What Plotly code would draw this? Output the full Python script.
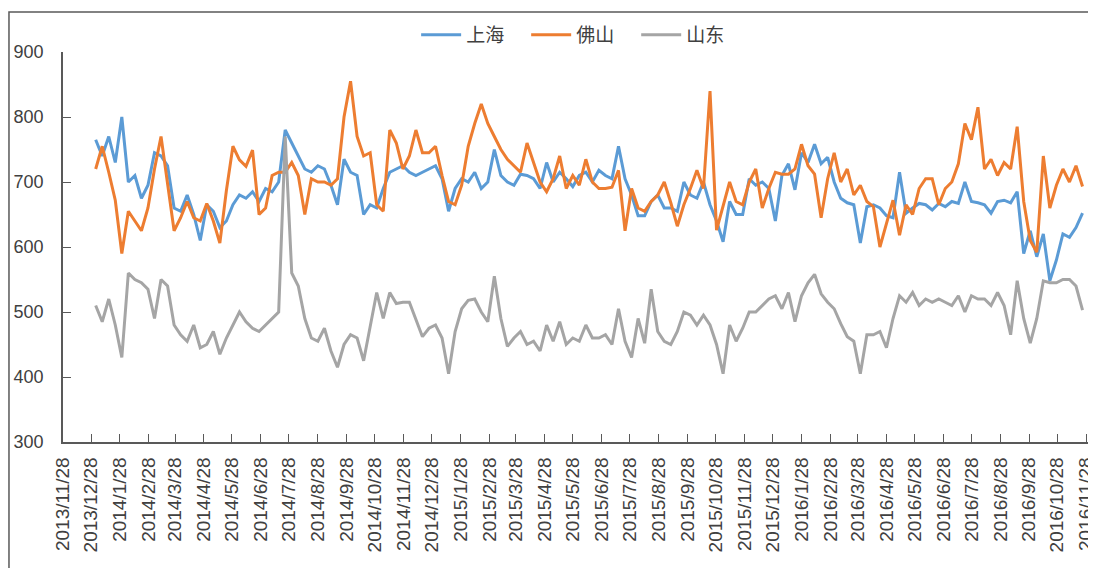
import pandas as pd
import plotly.graph_objects as go

# weekly observation dates (x categories)
dates = pd.date_range("2014-01-02", periods=152, freq="7D")

shanghai = [
    765, 740, 770, 730, 800, 700, 710, 675, 695, 745, 740, 725, 660, 655, 680, 650, 610, 665, 655, 630, 640, 665, 680, 675, 685, 670, 690,
    685, 700, 780, 760, 740, 720, 715, 725, 720, 695, 665, 735, 715, 710, 650, 665, 660, 690, 715, 720, 725, 715, 710, 715, 720,
    725, 705, 655, 690, 705, 700, 715, 690, 700, 750, 710, 700, 695, 712, 710, 705, 690, 730, 700, 715, 705, 693, 710, 715, 700, 718,
    710, 705, 755, 705, 680, 648, 648, 670, 680, 660, 660, 655, 700, 680, 675, 700, 665, 640, 608, 670, 650, 650, 705, 695, 700, 690,
    640, 710, 728, 688, 745, 730, 758, 728, 738, 700, 675, 668, 665, 606, 662, 665, 660, 648, 645, 715, 652, 660, 667, 665, 657, 667,
    662, 670, 667, 700, 670, 668, 665, 652, 670, 672, 668, 685, 590, 625, 585, 620, 548, 580, 620, 615, 630, 652,
]

foshan = [
    720, 755, 715, 672, 590, 655, 640, 625, 660, 720, 770, 700, 625, 645, 670, 645, 640, 667, 640, 606, 687, 755, 734, 724, 749, 650, 660,
    710, 715, 715, 730, 710, 650, 705, 700, 700, 695, 705, 800, 855, 770, 740, 745, 665, 655, 780, 760, 720, 740, 780, 745, 745,
    755, 710, 670, 665, 695, 755, 790, 820, 790, 770, 750, 735, 725, 715, 760, 730, 700, 685, 705, 740, 690, 710, 695, 735, 700, 690,
    690, 692, 718, 625, 690, 660, 655, 670, 680, 700, 668, 632, 665, 690, 718, 690, 840, 626, 665, 700, 670, 665, 700, 720, 660, 690,
    715, 712, 712, 720, 758, 725, 712, 645, 705, 745, 700, 720, 680, 695, 670, 662, 600, 635, 672, 618, 665, 650, 690, 705, 705, 665,
    690, 700, 728, 790, 765, 815, 720, 735, 710, 730, 720, 785, 670, 610, 592, 740, 660, 695, 720, 700, 725, 693,
]

shandong = [
    510, 485, 520, 480, 430, 560, 550, 545, 535, 490, 550, 540, 480, 465, 455, 480, 445, 450, 470, 435, 460, 480, 500, 485, 475, 470, 480,
    490, 500, 770, 560, 540, 490, 460, 455, 475, 440, 415, 450, 465, 460, 425, 480, 530, 490, 530, 513, 515, 515, 490, 462, 475,
    480, 460, 405, 470, 505, 518, 520, 500, 485, 555, 490, 447, 460, 470, 450, 455, 440, 480, 455, 485, 450, 460, 455, 480, 460, 460,
    465, 450, 505, 455, 430, 490, 452, 535, 470, 455, 450, 470, 500, 495, 480, 495, 480, 450, 405, 480, 455, 475, 500, 500, 510, 520,
    525, 505, 530, 485, 525, 545, 558, 528, 515, 505, 482, 462, 455, 405, 465, 465, 470, 445, 490, 525, 515, 530, 510, 520, 515, 520,
    515, 510, 525, 500, 525, 520, 520, 510, 530, 510, 465, 548, 490, 452, 490, 548, 545, 545, 550, 550, 540, 503,
]

tick_dates = [
    "2013-11-28", "2013-12-28", "2014-01-28", "2014-02-28", "2014-03-28", "2014-04-28", "2014-05-28",
    "2014-06-28", "2014-07-28", "2014-08-28", "2014-09-28", "2014-10-28", "2014-11-28", "2014-12-28",
    "2015-01-28", "2015-02-28", "2015-03-28", "2015-04-28", "2015-05-28", "2015-06-28", "2015-07-28",
    "2015-08-28", "2015-09-28", "2015-10-28", "2015-11-28", "2015-12-28", "2016-01-28", "2016-02-28",
    "2016-03-28", "2016-04-28", "2016-05-28", "2016-06-28", "2016-07-28", "2016-08-28", "2016-09-28",
    "2016-10-28", "2016-11-28",
]
tick_labels = [
    "2013/11/28", "2013/12/28", "2014/1/28", "2014/2/28", "2014/3/28", "2014/4/28", "2014/5/28",
    "2014/6/28", "2014/7/28", "2014/8/28", "2014/9/28", "2014/10/28", "2014/11/28", "2014/12/28",
    "2015/1/28", "2015/2/28", "2015/3/28", "2015/4/28", "2015/5/28", "2015/6/28", "2015/7/28",
    "2015/8/28", "2015/9/28", "2015/10/28", "2015/11/28", "2015/12/28", "2016/1/28", "2016/2/28",
    "2016/3/28", "2016/4/28", "2016/5/28", "2016/6/28", "2016/7/28", "2016/8/28", "2016/9/28",
    "2016/10/28", "2016/11/28",
]

series_names = ["上海", "佛山", "山东"]
series_colors = ["#5B9BD5", "#ED7D31", "#A5A5A5"]

fig = go.Figure()
for name, vals, col in zip(series_names, [shanghai, foshan, shandong], series_colors):
    fig.add_trace(go.Scatter(
        x=dates, y=vals, mode="lines", name=name + "    ",
        line=dict(color=col, width=3),
    ))

axis_color = "#595959"
font_family = "Liberation Sans, Arial, sans-serif"

# the page body adds an 8px offset; figure sized so the plot lands where the reference has it
fig.update_layout(
    width=1088, height=560,
    margin=dict(l=55, r=6, t=44, b=126, autoexpand=False),
    paper_bgcolor="white", plot_bgcolor="white",
    font=dict(family=font_family, size=16, color="#404040"),
    showlegend=True,
    legend=dict(
        orientation="h", x=0.505, xanchor="center", y=1.044, yanchor="middle",
        font=dict(family="Noto Sans CJK SC, sans-serif", size=19, color="#404040"),
        itemwidth=40, tracegroupgap=0, bgcolor="rgba(0,0,0,0)",
    ),
    xaxis=dict(
        type="date", range=["2013-11-28", "2016-12-02"],
        tickmode="array", tickvals=tick_dates, ticktext=tick_labels,
        tickangle=-90, ticks="inside", ticklen=8, tickcolor=axis_color, tickwidth=1.3,
        showline=True, linecolor=axis_color, linewidth=1.5,
        showgrid=False, zeroline=False,
        tickfont=dict(family=font_family, size=19, color="#404040"),
        ticklabelstandoff=6, ticklabeloverflow="allow",
    ),
    yaxis=dict(
        range=[300, 900], tickmode="array", tickvals=[300, 400, 500, 600, 700, 800, 900],
        ticks="inside", ticklen=8, tickcolor=axis_color, tickwidth=1.3,
        showline=True, linecolor=axis_color, linewidth=1.5,
        showgrid=False, zeroline=False,
        tickfont=dict(family=font_family, size=18, color="#404040"),
        ticklabelstandoff=14,
    ),
    shapes=[dict(
        type="rect", xref="paper", yref="paper",
        x0=-0.0526, x1=1.02, y0=-0.6, y1=1.1026,
        line=dict(color="#595959", width=1.5), fillcolor="rgba(0,0,0,0)", layer="below",
    )],
)

fig.write_html("out.html")
